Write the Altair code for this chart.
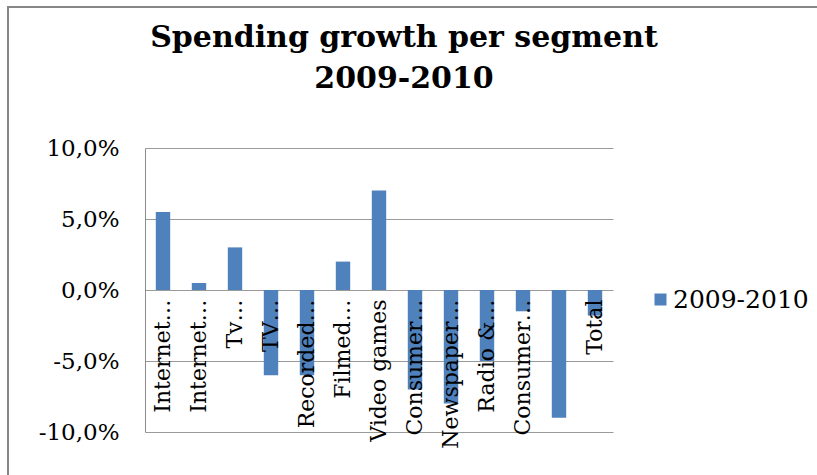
import json
import altair as alt
import pandas as pd

segments = [
    "Internet access", "Internet advertising", "TV subscriptions", "TV advertising",
    "Recorded music", "Filmed entertainment", "Video games", "Consumer magazines",
    "Newspaper publishing", "Radio & out-of-home", "Consumer & educational books",
    "Business-to-business", "Total",
]
tick_labels = [
    "Internet…", "Internet…", "Tv…", "TV…", "Recorded…", "Filmed…", "Video games",
    "Consumer…", "Newspaper…", "Radio &…", "Consumer…", "", "Total",
]
growth_pct = [5.5, 0.5, 3.0, -6.0, -6.0, 2.0, 7.0, -7.0, -8.0, -5.0, -1.5, -9.0, -1.8]
series_name = "2009-2010"
y_ticks = [-10, -5, 0, 5, 10]

df = pd.DataFrame({"segment": segments, "growth": growth_pct, "series": series_name})

FONT = "DejaVu Serif"
x_label_expr = "{}[indexof({}, datum.value)]".format(
    json.dumps(tick_labels, ensure_ascii=False), json.dumps(segments, ensure_ascii=False)
)
y_label_expr = "(datum.value < 0 ? '-' : '') + replace(format(abs(datum.value), '.1f'), '.', ',') + '%'"

bars = alt.Chart(df).mark_bar().encode(
    x=alt.X(
        "segment:N",
        sort=segments,
        title=None,
        scale=alt.Scale(paddingInner=0.6, paddingOuter=0.3),
        axis=alt.Axis(
            labelAngle=270, labelExpr=x_label_expr, domain=False, ticks=False,
            labelPadding=9, offset=-142, labelFont=FONT, labelFontSize=22,
            labelColor="black", labelOverlap=False, labelLimit=300, grid=False,
            zindex=2,
        ),
    ),
    y=alt.Y(
        "growth:Q",
        title=None,
        scale=alt.Scale(domain=[-10, 10], nice=False, zero=False),
        axis=alt.Axis(
            values=y_ticks, labelExpr=y_label_expr, grid=True, gridColor="#9a9a9a",
            gridWidth=1, domain=True, domainColor="#8c8c8c", ticks=False, tickSize=0,
            labelPadding=26, labelFont=FONT, labelFontSize=23, labelColor="black",
        ),
    ),
    color=alt.Color(
        "series:N",
        scale=alt.Scale(range=["#4F81BD"]),
        legend=alt.Legend(
            title=None, orient="none", legendX=503, legendY=139, symbolType="square",
            symbolSize=144, symbolStrokeWidth=0, labelFont=FONT,
            labelFontSize=25, labelColor="black", labelOffset=0,
        ),
    ),
)

frame = alt.Chart(alt.Data(values=[{}])).mark_rule(color="#878787", strokeWidth=2).encode(
    x=alt.value(-137), y=alt.value(-142), y2=alt.value(330)
)
frame_top = alt.Chart(alt.Data(values=[{}])).mark_rule(color="#878787", strokeWidth=2).encode(
    x=alt.value(-138), x2=alt.value(675), y=alt.value(-141)
)

chart = alt.layer(frame, frame_top, bars).properties(
    width=468,
    height=284,
    autosize=alt.AutoSizeParams(type="none"),
    padding={"left": 145, "top": 148, "right": 204, "bottom": 43},
    background="white",
    title=alt.TitleParams(
        text=["Spending growth per segment", "2009-2010"],
        font=FONT, fontSize=30, fontWeight="bold", color="black",
        anchor="middle", frame="group", dx=25, offset=-89, lineHeight=41,
    ),
).configure_view(stroke="transparent")

chart.save("out.html", embed_options={"renderer": "svg", "actions": False})
